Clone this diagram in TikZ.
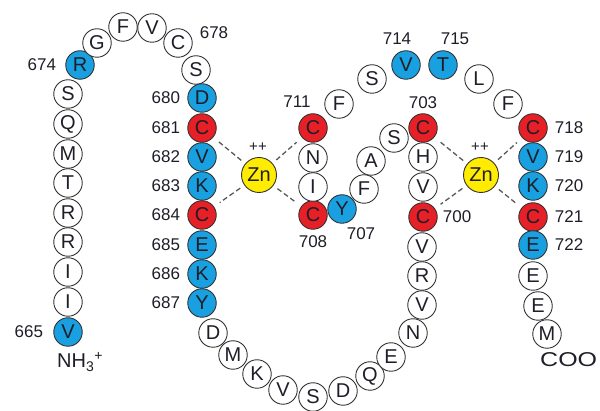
\documentclass[tikz,border=0pt]{standalone}
\usepackage{fontspec}
\setmainfont{Liberation Sans}
\usetikzlibrary{positioning}

\definecolor{aablue}{RGB}{24,160,224}
\definecolor{aared}{RGB}{230,32,38}
\definecolor{znyellow}{RGB}{255,236,0}
\definecolor{inkgray}{RGB}{30,30,40}

\begin{document}
\begin{tikzpicture}[x=1pt, y=-1pt,
    res/.style={circle, draw=black!80, line width=0.9pt, fill=white, text=inkgray,
        minimum size=28.5pt, inner sep=0pt, font=\fontsize{20}{20}\selectfont},
    ion/.style={res, fill=znyellow, minimum size=35pt, font=\fontsize{20}{20}\selectfont},
    num/.style={text=inkgray, inner sep=0pt, font=\fontsize{17}{17}\selectfont},
    bond/.style={dashed, dash pattern=on 5pt off 3pt, line width=1.3pt, draw=black!65,
        shorten <=5pt, shorten >=7pt}]
    \useasboundingbox (0,0) rectangle (600,411);

    % N-terminus up to the first finger
    \foreach \n/\x/\y/\aa/\col in {665/68/332/V/aablue, 666/68/302/I/white, 667/68/272/I/white,
            668/68/242/R/white, 669/68/213/R/white, 670/68/183/T/white, 671/68/154/M/white,
            672/68/124/Q/white, 673/68/94/S/white, 674/80/65/R/aablue, 675/97/43/G/white,
            676/123/27/F/white, 677/152/28/V/white, 678/178/43/C/white, 679/196/70/S/white}
        \node[res, fill=\col] (r\n) at (\x,\y) {\aa};

    % first zinc ligand strand
    \foreach \n/\y/\aa/\col in {680/98/D/aablue, 681/128/C/aared, 682/157/V/aablue,
            683/186/K/aablue, 684/215/C/aared, 685/245/E/aablue, 686/274/K/aablue,
            687/303/Y/aablue}
        \node[res, fill=\col] (r\n) at (202,\y) {\aa};

    % bottom loop
    \foreach \n/\x/\y/\aa in {688/213/333/D, 689/233/355/M, 690/257/374/K, 691/283/390/V,
            692/313/397/S, 693/343/391/D, 694/370/376/Q, 695/391/357/E, 696/413/333/N,
            697/422/305/V, 698/422/276/R, 699/422/247/V}
        \node[res] (r\n) at (\x,\y) {\aa};

    % middle hairpin
    \foreach \n/\x/\y/\aa/\col in {700/423/217/C/aared, 701/423/187/V/white,
            702/423/157/H/white, 703/423/128/C/aared, 704/394/138/S/white,
            705/371/161/A/white, 706/364/189/F/white, 707/342/209/Y/aablue,
            708/313/215/C/aared, 709/313/187/I/white, 710/313/158/N/white,
            711/313/128/C/aared}
        \node[res, fill=\col] (r\n) at (\x,\y) {\aa};

    % top arc and C-terminal strand
    \foreach \n/\x/\y/\aa/\col in {712/339/104/F/white, 713/372/79/S/white,
            714/406/65/V/aablue, 715/443/65/T/aablue, 716/479/79/L/white,
            717/508/104/F/white, 718/533/128/C/aared, 719/533/157/V/aablue,
            720/533/186/K/aablue, 721/533/217/C/aared, 722/533/245/E/aablue,
            723/533/276/E/white, 724/538/306/E/white, 725/547/334/M/white}
        \node[res, fill=\col] (r\n) at (\x,\y) {\aa};

    % zinc ions
    \node[ion] (znL) at (259,175) {Zn};
    \node[ion] (znR) at (481,175) {Zn};
    \node[text=inkgray, inner sep=0pt, font=\fontsize{15}{15}\selectfont] (chL) at (258,147) {++};
    \node[text=inkgray, inner sep=0pt, font=\fontsize{15}{15}\selectfont] (chR) at (480,147) {++};

    % Cys--Zn coordination
    \foreach \c in {681,684,711,708}
        \draw[bond] (znL) -- (r\c);
    \foreach \c in {703,700,718,721}
        \draw[bond] (znR) -- (r\c);

    % residue numbers
    \foreach \n in {680,...,687}
        \node[num, left=7pt of r\n] (l\n) {\n};
    \foreach \n in {718,...,722}
        \node[num, right=7pt of r\n] (l\n) {\n};
    \node[num, left=10pt of r665] (l665) {665};
    \node[num, left=9pt of r674] (l674) {674};
    \node[num] (l678) at (214,33) {678};
    \node[num] (l711) at (297,102) {711};
    \node[num, below=6pt of r708] (l708) {708};
    \node[num] (l707) at (361,234) {707};
    \node[num, above=4pt of r703] (l703) {703};
    \node[num, right=5pt of r700] (l700) {700};
    \node[num] (l714) at (397,39) {714};
    \node[num] (l715) at (455,39) {715};

    % termini
    \node[text=inkgray, inner sep=0pt, anchor=base west, font=\fontsize{20}{20}\selectfont]
        (nterm) at (57,368) {NH\textsubscript{3}\textsuperscript{+}};
    \node[text=inkgray, inner sep=0pt, anchor=base west, font=\fontsize{20}{20}\selectfont]
        (cterm) at (540,367) {\scalebox{1.25}[1]{COO}};
\end{tikzpicture}
\end{document}
